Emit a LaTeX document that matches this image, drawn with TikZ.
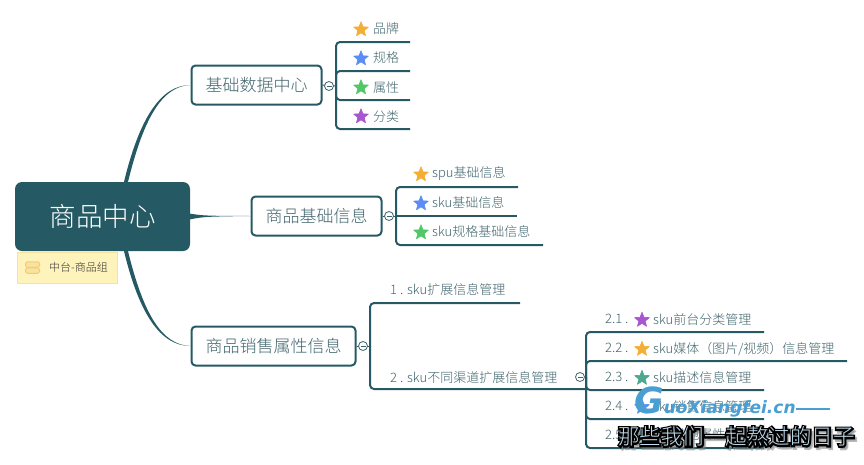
\documentclass[tikz,border=0pt]{standalone}
\usepackage{fontspec}
\usetikzlibrary{shapes.geometric}
\setmainfont{Noto Sans CJK SC Light}
\newfontfamily\wmlatin{DejaVu Sans}
\newfontfamily\wmhalo[FakeBold=14]{Noto Sans CJK SC}
\definecolor{mapteal}{HTML}{255A64}
\definecolor{labelgray}{HTML}{3F646C}
\definecolor{notefill}{HTML}{FFF3BC}
\definecolor{noteline}{HTML}{F7E3A0}
\definecolor{staror}{HTML}{F5AE35}
\definecolor{starbl}{HTML}{5B8DF5}
\definecolor{stargr}{HTML}{52C767}
\definecolor{starpu}{HTML}{A856CF}
\definecolor{starte}{HTML}{4CA88E}
\definecolor{wmblue}{HTML}{4A9FD2}
\tikzset{
	rootbox/.style={fill=mapteal, text=white, rounded corners=7pt, minimum width=175pt, minimum height=69pt, font=\fontsize{26.5}{30}\selectfont},
	branchbox/.style={draw=mapteal, line width=2pt, fill=white, text=labelgray, rounded corners=4pt, minimum height=39pt, font=\fontsize{17}{20}\selectfont},
	trunk/.style={fill=mapteal},
	twig/.style={draw=mapteal, line width=2pt, rounded corners=4pt},
	leaftext/.style={anchor=west, inner sep=0pt, text=labelgray, font=\fontsize{13}{15}\selectfont},
	starmark/.style={star, star points=5, star point ratio=2.3, inner sep=0pt, minimum size=15.5pt, line join=round, line width=.6pt},
	toggle/.style={circle, draw=labelgray, line width=.8pt, fill=white, minimum size=9pt, inner sep=0pt,
		path picture={\draw[labelgray, line width=.8pt] ([xshift=2pt]path picture bounding box.west) -- ([xshift=-2pt]path picture bounding box.east);}},
}
\begin{document}
\begin{tikzpicture}[x=1pt, y=-1pt]
	\useasboundingbox (0,0) rectangle (864,464);
	% 中心主题和便签
	\node[rootbox] (root) at (102.5,216.5) {商品中心};
	\node[fill=notefill, draw=noteline, line width=.7pt, minimum width=100pt, minimum height=31pt, anchor=north west] (note) at (16.5,251.5) {};
	\node[fill=noteline, draw=staror!45!noteline, line width=1pt, rounded corners=1.5pt, minimum width=14pt, minimum height=5.5pt, inner sep=0pt] (iconup) at (32.5,264.5) {};
	\node[fill=noteline, draw=staror!45!noteline, line width=1pt, rounded corners=1.5pt, minimum width=14pt, minimum height=5.5pt, inner sep=0pt] (icondown) at (32.5,270.5) {};
	\node[anchor=west, inner sep=0pt, text=black!80, font=\fontsize{11}{13}\selectfont] (notetext) at (49,267.5) {中台-商品组};
	% 三个分支
	\node[branchbox, minimum width=130pt] (basedata) at (256.5,85) {基础数据中心};
	\node[branchbox, minimum width=130pt] (baseinfo) at (316.5,216) {商品基础信息};
	\node[branchbox, minimum width=164pt] (saleinfo) at (273.5,346) {商品销售属性信息};
	% 主干
	\fill[trunk] ([xshift=21.5pt]root.north) .. controls (139,120) and (160,85) .. (basedata.west) .. controls (161,86) and (143,121) .. ([xshift=25.5pt]root.north) -- cycle;
	\fill[trunk] ([yshift=2.8pt]root.east) .. controls (205,215.8) .. (baseinfo.west) .. controls (205,216.6) .. ([yshift=-2.8pt]root.east) -- cycle;
	\fill[trunk] ([xshift=21.5pt]root.south) .. controls (139,313) and (160,346) .. (saleinfo.west) .. controls (161,345) and (143,312) .. ([xshift=25.5pt]root.south) -- cycle;
	% 基础数据中心的子项
	\coordinate (dataknot) at (336,86);
	\coordinate (brandend) at (410,42);
	\coordinate (specend) at (410,71);
	\coordinate (attrend) at (410,100);
	\coordinate (cateend) at (410,129);
	\draw[twig, line width=1pt] (basedata.east) -- (dataknot);
	\draw[twig] (dataknot) |- (brandend);
	\draw[twig] (dataknot) |- (specend);
	\draw[twig] (dataknot) |- (attrend);
	\draw[twig] (dataknot) |- (cateend);
	\node[toggle] (datatoggle) at (329,86) {};
	\node[starmark, fill=staror, draw=staror] (brandstar) at (361,29.5) {};
	\node[starmark, fill=starbl, draw=starbl] (specstar) at (361,58.5) {};
	\node[starmark, fill=stargr, draw=stargr] (attrstar) at (361,87.5) {};
	\node[starmark, fill=starpu, draw=starpu] (catestar) at (361,116.5) {};
	\node[leaftext] (brand) at (373,29) {品牌};
	\node[leaftext] (spec) at (373,58) {规格};
	\node[leaftext] (attr) at (373,87.5) {属性};
	\node[leaftext] (cate) at (373,116.5) {分类};
	% 商品基础信息的子项
	\coordinate (infoknot) at (396,216);
	\coordinate (spuend) at (518,187);
	\coordinate (skuend) at (517,216);
	\coordinate (skuspecend) at (543,245);
	\draw[twig, line width=1pt] (baseinfo.east) -- (infoknot);
	\draw[twig] (infoknot) |- (spuend);
	\draw[twig] (infoknot) -- (skuend);
	\draw[twig] (infoknot) |- (skuspecend);
	\node[toggle] (infotoggle) at (389,216) {};
	\node[starmark, fill=staror, draw=staror] (spustar) at (421,174.5) {};
	\node[starmark, fill=starbl, draw=starbl] (skustar) at (421,203.5) {};
	\node[starmark, fill=stargr, draw=stargr] (skuspecstar) at (421,232.5) {};
	\node[leaftext] (spu) at (432,174) {spu基础信息};
	\node[leaftext] (sku) at (432,203) {sku基础信息};
	\node[leaftext] (skuspec) at (432,232) {sku规格基础信息};
	% 商品销售属性信息的子项
	\coordinate (saleknot) at (370,346);
	\coordinate (extendend) at (520,303);
	\coordinate (channelend) at (586,389);
	\draw[twig, line width=1pt] (saleinfo.east) -- (saleknot);
	\draw[twig] (saleknot) |- (extendend);
	\draw[twig] (saleknot) |- (channelend);
	\node[toggle] (saletoggle) at (363,346) {};
	\node[leaftext] (extend) at (390,290) {1 . sku扩展信息管理};
	\node[leaftext] (channel) at (390,378) {2 . sku不同渠道扩展信息管理};
	% 渠道的子项
	\coordinate (chanknot) at (586,377);
	\coordinate (frontend) at (764,332);
	\coordinate (mediaend) at (847,361);
	\coordinate (descend) at (764,390);
	\coordinate (saleend) at (764,419);
	\coordinate (otherend) at (764,448);
	\draw[twig] (chanknot) |- (frontend);
	\draw[twig] (chanknot) |- (mediaend);
	\draw[twig] (chanknot) |- (descend);
	\draw[twig] (chanknot) |- (saleend);
	\draw[twig] (chanknot) |- (otherend);
	\node[toggle] (chantoggle) at (580,377) {};
	\node[leaftext] (frontnum) at (605,319) {2.1 .};
	\node[leaftext] (medianum) at (605,348) {2.2 .};
	\node[leaftext] (descnum) at (605,377) {2.3 .};
	\node[leaftext] (salenum) at (605,406) {2.4 .};
	\node[leaftext] (othernum) at (605,435) {2.5 .};
	\node[starmark, fill=starpu, draw=starpu] (frontstar) at (642,320) {};
	\node[starmark, fill=staror, draw=staror] (mediastar) at (642,349) {};
	\node[starmark, fill=starte, draw=starte] (descstar) at (642,378) {};
	\node[starmark, fill=starbl, draw=starbl] (salestar) at (642,407) {};
	\node[starmark, fill=starte, draw=starte] (otherstar) at (642,436) {};
	\node[leaftext] (front) at (653,320) {sku前台分类管理};
	\node[leaftext] (media) at (653,349) {sku媒体（图片/视频）信息管理};
	\node[leaftext] (desc) at (653,378) {sku描述信息管理};
	\node[leaftext] (saleitem) at (653,406.5) {sku销售信息管理};
	\node[leaftext] (other) at (653,435) {sku其他属性管理};
	% 水印
	\node[anchor=base west, inner sep=0pt, text=wmblue, font=\wmlatin\bfseries\itshape\fontsize{17}{20}\selectfont] (wmurl) at (634,413) {{\fontsize{36}{36}\selectfont G}uoXiangfei.cn};
	\coordinate (wmtail) at (830,409);
	\draw[wmblue, line width=1.2pt] ([yshift=4pt]wmurl.base east) -- (wmtail);
	\node[anchor=west, inner sep=0pt, text=black!50, opacity=.55, font=\wmhalo\fontsize{21.5}{24}\selectfont] (wmshadow) at (620,439) {那些我们一起熬过的日子};
	\node[anchor=west, inner sep=0pt, text=black, font=\wmhalo\fontsize{21.5}{24}\selectfont] (wmback) at (618,436.5) {那些我们一起熬过的日子};
	\node[anchor=west, inner sep=0pt, text=wmblue!35, font=\fontsize{21.5}{24}\selectfont] (wmfront) at (618,436.5) {那些我们一起熬过的日子};
\end{tikzpicture}
\end{document}
